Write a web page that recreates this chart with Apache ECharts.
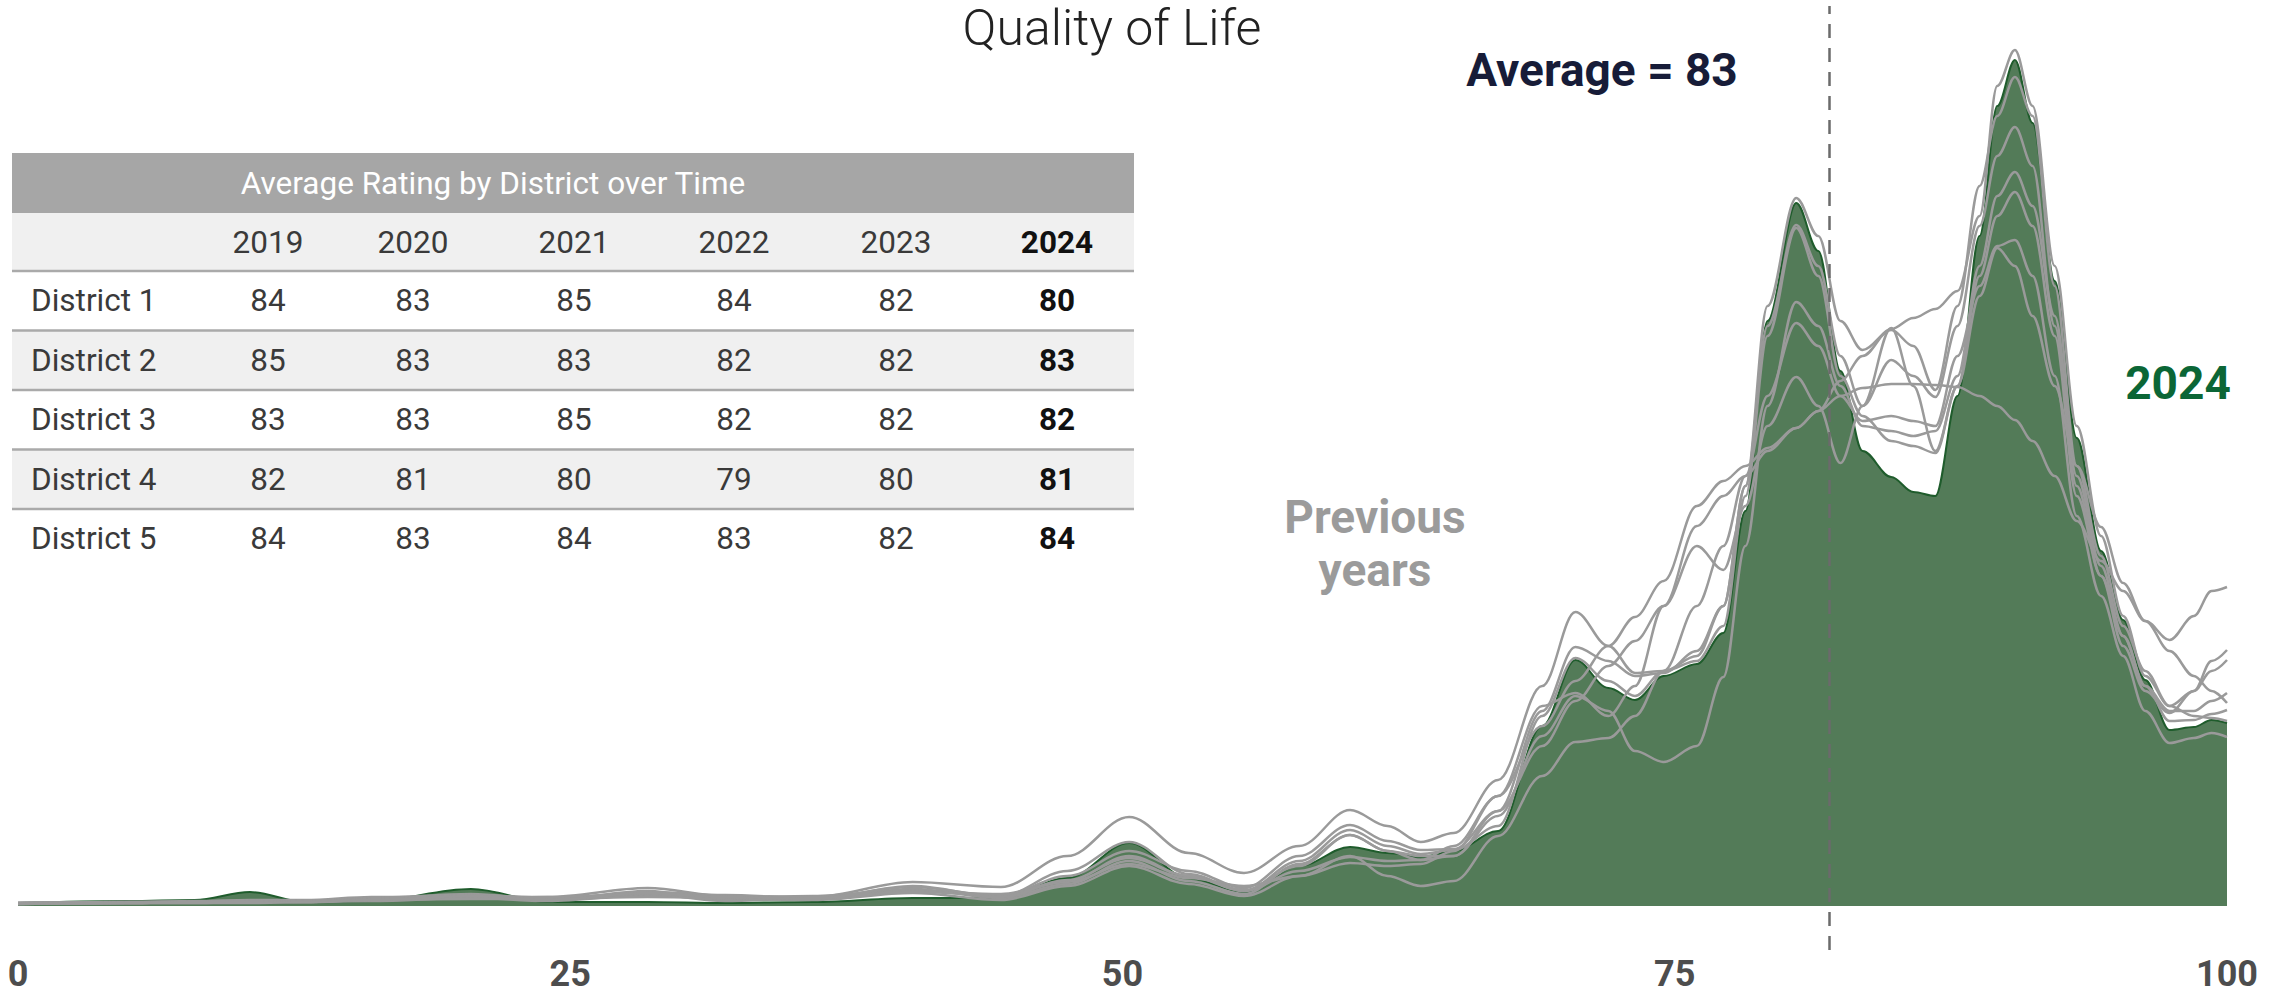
<!DOCTYPE html>
<html>
<head>
<meta charset="utf-8">
<script src="https://cdn.jsdelivr.net/npm/echarts@6/dist/echarts.min.js"></script>
<style>
html,body{margin:0;padding:0;background:#ffffff;}
#chart{width:2285px;height:994px;}
</style>
</head>
<body>
<div id="chart"></div>
<script>
// ---------------- DATA ----------------
// rating scale positions (x) at which the density curves were read
const ratingPoints = [0,5,8,10.5,13,16,20.5,24,28.5,32,36,40.5,44.5,47.5,50.3,53,55.5,58,60.3,62,63.5,65,67,69,70.5,72,73.2,74.5,76,77.2,78.2,79.2,80.5,81.5,82.5,83.5,84.8,85.8,86.8,87.8,88.8,89.6,90.4,91.2,92.2,93.2,94.3,95.3,96.3,97.4,98.5,99.3,100];

// relative density, 2024 (filled)
const density2024 = [0.3,0.5,0.6,1.4,0.4,0.5,1.7,0.4,0.4,0.3, 0.4,0.8,0.8,2.8,6.3,2.8,1.4,4.0,5.9,5.3, 4.9,5.5,7.5,18.0,24.6,21.8,20.6,23.0,24.2,27.3, 39.5,58.5,70.3,65.5,53.5,45.5,42.9,41.4,41.0,51.0, 67.0,80.0,84.6,78.3,62.5,46.8,35.5,28.6,22.6,17.6, 17.9,18.6,18.3];

// relative density, previous years (grey lines)
const previousA = [0.3,0.4,0.5,0.6,0.6,0.9,1.0,0.9,1.8,1.0, 0.9,2.4,1.9,5.0,8.9,5.3,3.3,6.0,9.6,8.0, 6.4,7.3,12.6,22.0,29.4,26.0,23.3,23.5,25.0,30.0, 42.0,60.0,70.8,67.0,58.5,55.6,57.6,56.0,51.6,60.0, 72.0,79.0,82.9,79.0,62.0,44.0,35.0,28.0,23.5,20.0, 21.5,23.5,24.6];
const previousB = [0.3,0.4,0.4,0.5,0.5,0.8,1.2,0.7,1.4,1.1, 0.8,1.9,1.0,3.0,5.5,3.5,1.8,5.0,8.1,6.5, 5.6,5.7,9.5,19.5,25.9,24.5,23.0,23.3,25.5,30.0, 42.0,58.0,68.1,64.0,55.0,50.0,54.6,53.0,50.9,58.0, 68.0,75.0,77.9,74.0,58.0,42.0,33.0,27.0,22.0,18.5, 18.6,19.2,19.6];
const previousC = [0.3,0.3,0.4,0.4,0.5,0.7,1.1,0.8,1.0,0.8, 1.0,1.6,1.0,3.5,6.4,3.2,1.5,4.5,7.6,6.0, 5.2,5.6,8.0,19.0,24.8,22.5,21.0,23.5,24.5,28.0, 41.0,57.0,67.8,63.0,53.0,49.0,46.5,46.0,45.3,52.0, 63.0,69.0,71.4,68.0,57.0,41.0,33.0,26.0,21.5,19.3, 21.5,24.5,25.6];
const previousD = [0.2,0.3,0.4,0.4,0.4,0.6,0.9,0.6,1.5,0.6, 0.7,1.7,0.8,2.2,4.5,2.5,1.2,4.2,7.1,5.5, 4.6,5.0,9.0,17.0,21.0,19.5,15.5,14.4,16.0,22.9, 36.0,50.0,60.4,58.0,52.0,48.0,47.5,47.0,47.5,53.0, 64.0,71.0,73.4,70.0,59.0,43.0,34.0,27.0,22.0,19.5, 19.5,20.5,21.3];
const previousE = [0.3,0.4,0.4,0.5,0.4,0.7,0.8,0.5,1.1,0.7, 0.6,1.3,0.6,2.0,4.0,2.2,1.0,3.0,5.0,3.0, 2.0,2.5,7.0,13.0,16.4,16.8,19.0,23.5,30.0,36.0, 43.0,51.0,58.3,56.0,51.0,48.5,49.0,48.5,48.0,55.0, 62.0,66.0,66.6,63.0,53.0,39.0,31.0,25.0,19.5,16.3, 16.8,17.3,16.9];
const previousF = [0.2,0.3,0.3,0.4,0.4,0.5,0.8,0.9,1.2,0.5, 0.8,1.5,1.2,2.5,5.0,3.0,1.5,3.5,4.9,4.5, 4.6,6.0,11.0,20.0,21.3,19.0,22.0,30.0,36.0,33.6, 40.0,48.0,52.9,50.0,44.3,50.0,57.8,52.0,45.5,52.0, 61.0,65.8,64.0,59.0,52.0,44.0,37.9,32.3,28.5,26.6, 29.0,31.5,31.9];
const previousG = [0.3,0.3,0.4,0.4,0.5,0.6,0.7,0.7,0.9,0.8, 0.9,1.4,1.1,2.4,4.2,2.8,2.0,3.0,4.3,4.0, 4.2,5.5,11.0,18.0,22.5,26.0,28.9,32.5,40.0,42.5, 44.0,45.8,47.8,49.5,51.0,51.8,52.2,52.2,52.1,51.9, 51.0,50.0,48.6,46.5,43.0,38.5,34.5,31.5,28.5,25.5, 23.0,21.5,20.3];
const previousH = [0.2,0.3,0.3,0.3,0.4,0.6,1.0,0.6,1.3,0.9, 0.7,2.0,0.9,2.6,4.8,3.0,1.6,4.0,7.1,5.5, 5.0,5.0,9.5,16.0,20.5,24.0,26.5,30.0,38.0,41.0, 43.0,45.5,47.8,49.5,52.5,55.0,57.7,58.8,59.7,61.5, 69.0,82.0,85.6,80.0,64.0,48.0,37.0,29.0,23.0,20.0, 19.0,18.8,18.5];
const previousYears = [previousA, previousB, previousC, previousD, previousE, previousF, previousG, previousH];

// x-axis ticks
const xTicks = [0, 25, 50, 75, 100];
const averagePosition = 82;
const averageText = 'Average = 83';

// table
const tableTitle = 'Average Rating by District over Time';
const tableYears = ['2019', '2020', '2021', '2022', '2023', '2024'];
const districtNames = ['District 1', 'District 2', 'District 3', 'District 4', 'District 5'];
const district1 = [84, 83, 85, 84, 82, 80];
const district2 = [85, 83, 83, 82, 82, 83];
const district3 = [83, 83, 85, 82, 82, 82];
const district4 = [82, 81, 80, 79, 80, 81];
const district5 = [84, 83, 84, 83, 82, 84];
const districtRatings = [district1, district2, district3, district4, district5];

// ---------------- LAYOUT / STYLE ----------------
const FONT = 'Roboto, "Liberation Sans", "DejaVu Sans", sans-serif';
const TFS = '31.5px ';
const pair = vals => ratingPoints.map((x, i) => [x, vals[i]]);

const chart = echarts.init(document.getElementById('chart'), null, {renderer: 'svg'});

const series = [];
series.push({
  name: '2024', type: 'line', data: pair(density2024), smooth: 0.35, smoothMonotone: 'x',
  symbol: 'none', z: 2,
  lineStyle: {color: '#1f5c2c', width: 2},
  areaStyle: {color: '#537b58', opacity: 1}
});
previousYears.forEach((vals, k) => {
  series.push({
    name: 'prev' + k, type: 'line', data: pair(vals), smooth: 0.35, smoothMonotone: 'x',
    symbol: 'none', z: 3,
    lineStyle: {color: '#9a9a9a', width: 2.5}
  });
});
series.push({
  name: 'average', type: 'line', data: [[averagePosition, 0]], symbol: 'none', z: 6,
  lineStyle: {opacity: 0},
  markLine: {
    silent: true, symbol: ['none', 'none'], animation: false,
    label: {show: false},
    lineStyle: {color: '#6b6b6b', width: 2.5, type: [14, 10]},
    data: [{xAxis: averagePosition}]
  }
});

// table graphics
const T = {left: 12, width: 1122, headTop: 153, headH: 60, yearTop: 213, yearH: 58, rowTop: 271, rowH: 59.5};
const colX = [268, 413, 574, 734, 896, 1057];
const labelX = 31;
const graphics = [];
graphics.push({type: 'rect', shape: {x: T.left, y: T.headTop, width: T.width, height: T.headH}, style: {fill: '#a6a6a6'}});
graphics.push({type: 'text', x: 493, y: T.headTop + T.headH / 2, style: {text: tableTitle, fill: '#ffffff', font: TFS + FONT, align: 'center', verticalAlign: 'middle'}});
graphics.push({type: 'rect', shape: {x: T.left, y: T.yearTop, width: T.width, height: T.yearH}, style: {fill: '#f0f0f0'}});
tableYears.forEach((yr, j) => {
  const last = j === tableYears.length - 1;
  graphics.push({type: 'text', x: colX[j], y: T.yearTop + T.yearH / 2, style: {text: yr, fill: last ? '#111111' : '#3a3a3a', font: (last ? 'bold ' : '') + TFS + FONT, align: 'center', verticalAlign: 'middle'}});
});
districtNames.forEach((name, i) => {
  const top = T.rowTop + i * T.rowH;
  if (i % 2 === 1) graphics.push({type: 'rect', shape: {x: T.left, y: top, width: T.width, height: T.rowH}, style: {fill: '#f0f0f0'}});
  const cy = top + T.rowH / 2;
  graphics.push({type: 'text', x: labelX, y: cy, style: {text: name, fill: '#3a3a3a', font: TFS + FONT, align: 'left', verticalAlign: 'middle'}});
  districtRatings[i].forEach((v, j) => {
    const last = j === tableYears.length - 1;
    graphics.push({type: 'text', x: colX[j], y: cy, style: {text: String(v), fill: last ? '#111111' : '#3a3a3a', font: (last ? 'bold ' : '') + TFS + FONT, align: 'center', verticalAlign: 'middle'}});
  });
});
for (let i = 0; i < districtNames.length; i++) {
  graphics.push({type: 'rect', shape: {x: T.left, y: T.rowTop + i * T.rowH - 1.2, width: T.width, height: 2.4}, style: {fill: '#aaaaaa'}});
}

// annotations
graphics.push({type: 'text', x: 1112, y: 28, style: {text: 'Quality of Life', fill: '#222222', font: '300 50px ' + FONT, align: 'center', verticalAlign: 'middle'}});
graphics.push({type: 'text', x: 1602, y: 70, style: {text: averageText, fill: '#171c38', font: 'bold 46px ' + FONT, align: 'center', verticalAlign: 'middle'}});
graphics.push({type: 'text', x: 2178, y: 383, style: {text: '2024', fill: '#0b6636', font: 'bold 46px ' + FONT, align: 'center', verticalAlign: 'middle'}});
graphics.push({type: 'text', x: 1375, y: 517, style: {text: 'Previous', fill: '#9b9b9b', font: 'bold 46px ' + FONT, align: 'center', verticalAlign: 'middle'}});
graphics.push({type: 'text', x: 1375, y: 570, style: {text: 'years', fill: '#9b9b9b', font: 'bold 46px ' + FONT, align: 'center', verticalAlign: 'middle'}});

const option = {
  animation: false,
  backgroundColor: '#ffffff',
  grid: {left: 18, right: 58, top: 6, bottom: 44, containLabel: false},
  xAxis: {
    type: 'value', min: xTicks[0], max: xTicks[xTicks.length - 1], interval: xTicks[1] - xTicks[0],
    axisLine: {show: false}, axisTick: {show: false}, splitLine: {show: false},
    axisLabel: {fontSize: 36, lineHeight: 36, fontWeight: 'bold', color: '#4d4d4d', margin: 6, fontFamily: FONT}
  },
  yAxis: {type: 'value', min: -4.4, max: 90, show: false, splitLine: {show: false}},
  series: series,
  graphic: graphics
};
chart.setOption(option);
</script>
</body>
</html>
